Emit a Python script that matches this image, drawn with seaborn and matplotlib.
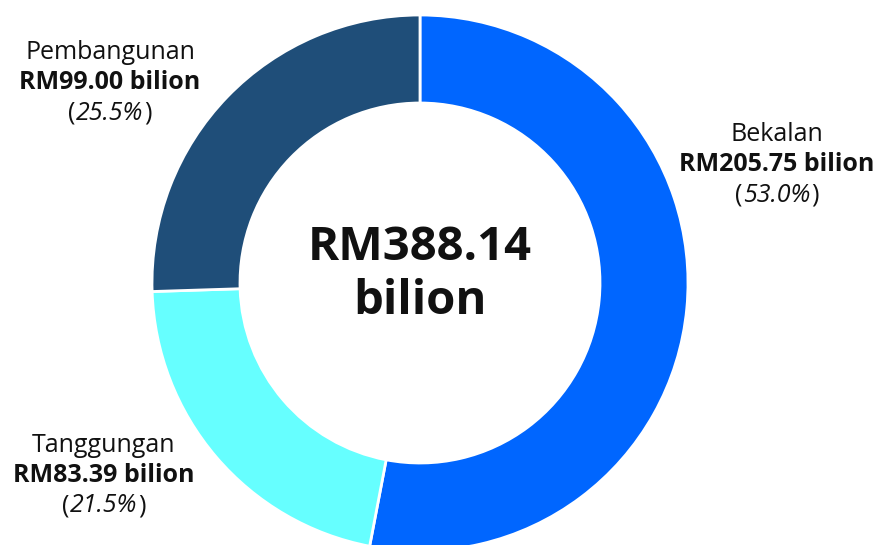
import numpy as np
import pandas as pd
import seaborn as sns
import matplotlib.pyplot as plt

FACE_COLOR = "#FFFFFF"
TEXT_COLOR = "#111111"

categories = ["Bekalan", "Tanggungan", "Pembangunan"]
values = [205.75, 83.39, 99.00]
percents = ["53.0%", "21.5%", "25.5%"]
colors = ["#0066FF", "#66FFFF", "#1F4E79"]
total_label = "RM388.14"

# label anchor (x, top-y in pixels) for each category
label_pos = {
    "Bekalan": (777, 134),
    "Tanggungan": (104, 445),
    "Pembangunan": (110, 52),
}


def main():
    sns.set_style("white")
    plt.rcParams["font.family"] = ["Open Sans", "DejaVu Sans"]

    fig = plt.figure(figsize=(8.79, 5.45), dpi=100)
    fig.set_facecolor(FACE_COLOR)
    ax = fig.add_axes([0, 0, 1, 1])

    H = 545
    ax.pie(
        values,
        colors=colors,
        startangle=90,
        counterclock=False,
        center=(420, H - 283),
        radius=268,
        wedgeprops=dict(width=88, edgecolor="white", linewidth=2),
        frame=True,
    )
    ax.set_xlim(0, 879)
    ax.set_ylim(0, 545)
    ax.set_axis_off()

    renderer = fig.canvas.get_renderer()

    # Labels around the ring
    fs = 18
    for cat, val, pct in zip(categories, values, percents):
        x, y = label_pos[cat]
        ax.text(x, H - y, cat, ha="center", va="center", fontsize=fs, color=TEXT_COLOR)
        ax.text(x, H - y - 30, f"RM{val:.2f} bilion", ha="center", va="center",
                fontsize=fs, fontweight="bold", color=TEXT_COLOR)
        # italic percentage with upright brackets
        t = ax.text(x, H - y - 61, pct, ha="center", va="center",
                    fontsize=fs, fontstyle="italic", color=TEXT_COLOR)
        bb = t.get_window_extent(renderer)
        ax.text(bb.x0 - 0.5, H - y - 61, "(", ha="right", va="center",
                fontsize=fs, color=TEXT_COLOR)
        ax.text(bb.x1 + 0.5, H - y - 61, ")", ha="left", va="center",
                fontsize=fs, color=TEXT_COLOR)

    # Centre total
    ax.text(420, H - 247, total_label, ha="center", va="center",
            fontsize=34, fontweight="bold", color=TEXT_COLOR)
    ax.text(420, H - 301, "bilion", ha="center", va="center",
            fontsize=34, fontweight="bold", color=TEXT_COLOR)

    plt.savefig("out.png", dpi=100, facecolor=FACE_COLOR)


if __name__ == "__main__":
    main()
